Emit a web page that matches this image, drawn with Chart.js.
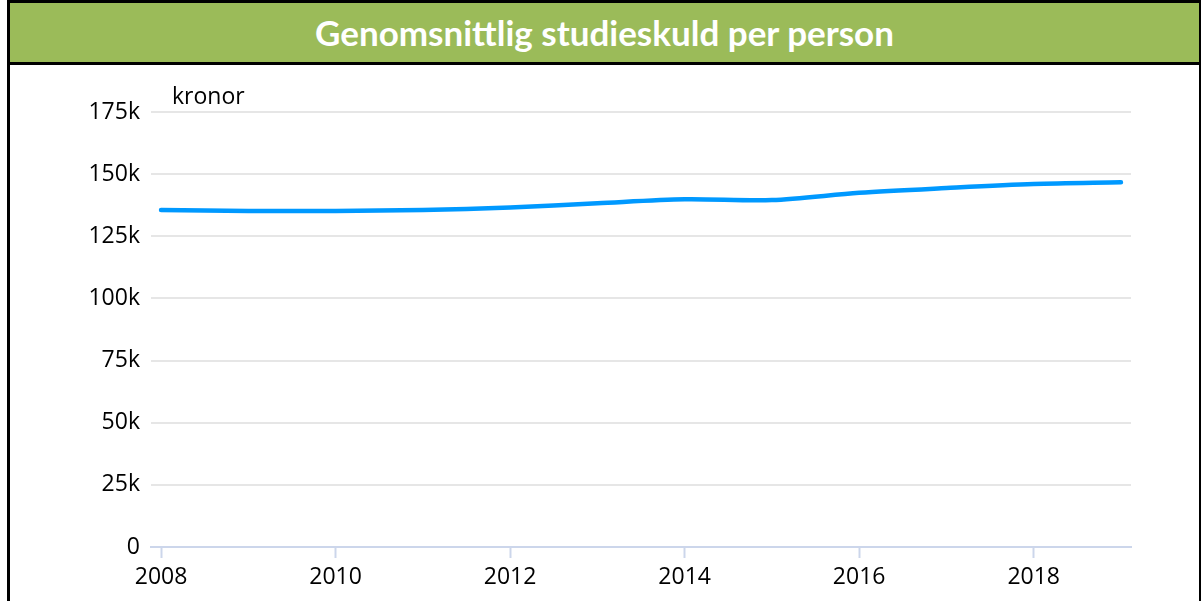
<!DOCTYPE html>
<html>
<head>
<meta charset="utf-8">
<script src="https://cdn.jsdelivr.net/npm/chart.js@4"></script>
<style>
  html, body { margin: 0; padding: 0; background: #fff; }
  #frame {
    position: absolute; left: 7px; top: 0; width: 1189px; height: 601px;
    border-left: 3px solid #000; border-right: 3px solid #000; border-top: 3px solid #000;
    box-sizing: content-box; overflow: hidden;
  }
  #header {
    height: 59px; background: #9bbb59; border-bottom: 3px solid #000;
    color: #fff; font-family: Lato, sans-serif; font-weight: bold; font-size: 35px;
    text-align: center; line-height: 59px;
  }
  #wrap { position: relative; width: 1189px; height: 536px; }
</style>
</head>
<body>
<div id="frame">
  <div id="header">Genomsnittlig studieskuld per person</div>
  <div id="wrap"><canvas id="chart"></canvas></div>
</div>
<script>
// data
const years = [2008, 2009, 2010, 2011, 2012, 2013, 2014, 2015, 2016, 2017, 2018, 2019];
const studieskuld = [135600, 135200, 135200, 135600, 136600, 138300, 139900, 139600, 142500, 144400, 146000, 146700];
const xTickYears = [2008, 2010, 2012, 2014, 2016, 2018];
const yTicks = [0, 25000, 50000, 75000, 100000, 125000, 150000, 175000];
const unitLabel = 'kronor';

const tickFont = { family: "'Open Sans', sans-serif", size: 23 };

// draws "kronor" top-left of plot
const unitPlugin = {
    id: 'unitLabel',
    afterDraw(chart) {
        const ctx = chart.ctx;
        ctx.save();
        ctx.fillStyle = '#000';
        ctx.font = "23px 'Open Sans', sans-serif";
        ctx.textAlign = 'left';
        ctx.textBaseline = 'middle';
        ctx.fillText(unitLabel, chart.chartArea.left + 21, chart.chartArea.top - 15);
        ctx.restore();
    }
};

const ctx = document.getElementById('chart').getContext('2d');
new Chart(ctx, {
    type: 'line',
    data: {
        datasets: [{
            data: years.map((y, i) => ({ x: y, y: studieskuld[i] })),
            borderColor: '#0099ff',
            borderWidth: 4.5,
            borderCapStyle: 'round',
            tension: 0.3,
            pointRadius: 0,
            fill: false
        }]
    },
    options: {
        responsive: true,
        maintainAspectRatio: false,
        animation: false,
        layout: { padding: { left: 0, right: 68, top: 47, bottom: 0 } },
        plugins: {
            legend: { display: false },
            tooltip: { enabled: false }
        },
        scales: {
            x: {
                type: 'linear',
                min: 2007.885,
                max: 2019.115,
                afterBuildTicks: axis => { axis.ticks = xTickYears.map(v => ({ value: v })); },
                afterFit: axis => { axis.height = 54; },
                border: { color: '#ccd6eb', width: 2 },
                grid: { drawOnChartArea: false, tickLength: 11, tickColor: '#ccd6eb', tickWidth: 2 },
                ticks: {
                    color: '#000',
                    font: tickFont,
                    padding: 6,
                    maxRotation: 0,
                    callback: v => String(v)
                }
            },
            y: {
                min: 0,
                max: 175000,
                afterBuildTicks: axis => { axis.ticks = yTicks.map(v => ({ value: v })); },
                afterFit: axis => { axis.width = 141; },
                border: { display: false },
                grid: { color: '#e6e6e6', lineWidth: 2, drawTicks: false },
                ticks: {
                    color: '#000',
                    font: tickFont,
                    padding: 11,
                    callback: v => v === 0 ? '0' : (v / 1000) + 'k'
                }
            }
        }
    },
    plugins: [unitPlugin]
});
</script>
</body>
</html>
